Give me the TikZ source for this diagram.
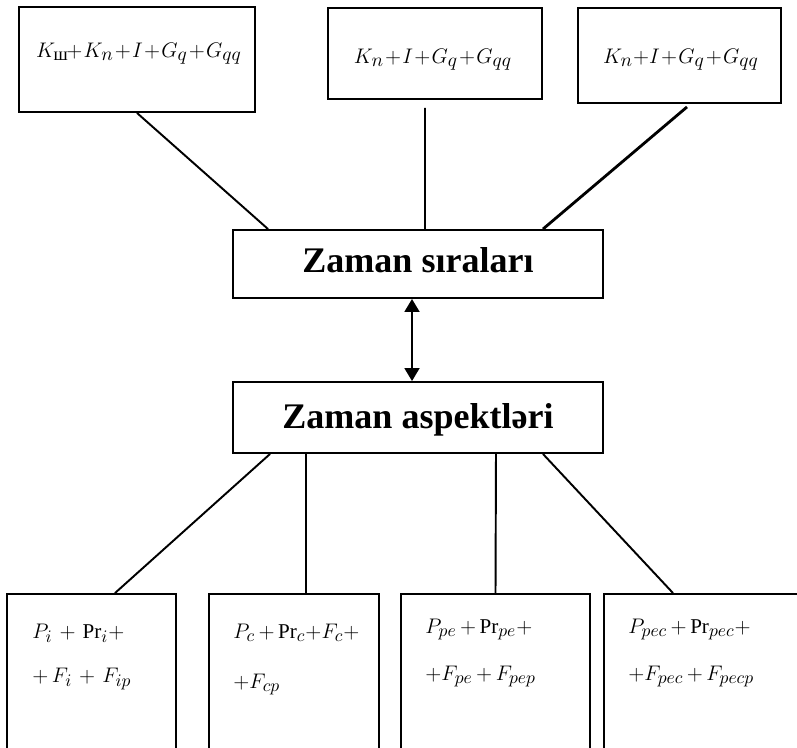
\documentclass[tikz,border=0pt]{standalone}
\usepackage{amsmath}
\usepackage{fontspec}
\setmainfont{Liberation Serif}
\usetikzlibrary{arrows.meta}
\DeclareMathSizes{13}{13}{10.5}{7.5}
\DeclareMathSizes{12}{12}{10}{7}
\newcommand\tightops{\medmuskip=1mu\relax}
\newcommand\looseops{\medmuskip=3mu\relax}
\tikzset{
  frame/.style={draw, line width=1.1pt, inner sep=0pt},
  formula/.style={font=\fontsize{13}{15}\selectfont\tightops, inner sep=0pt, anchor=base},
  term/.style={font=\fontsize{12}{14}\selectfont\looseops, inner sep=0pt, anchor=base west},
  heading/.style={font=\fontsize{20.5}{24}\selectfont\bfseries, inner sep=0pt, anchor=base},
  link/.style={line width=1.1pt},
  both/.style={line width=1.1pt, {Triangle[length=2.6mm,width=3mm]}-{Triangle[length=2.6mm,width=3mm]}},
}
\begin{document}
\begin{tikzpicture}[x=0.02cm,y=-0.02cm]
  \useasboundingbox (0,0) rectangle (797,747);
  \clip (0,0) rectangle (797,747);
  % top boxes
  \node[frame,minimum width=4.72cm,minimum height=2.1cm] (t1) at (137,59.5) {};
  \node[frame,minimum width=4.28cm,minimum height=1.82cm] (t2) at (435,53.5) {};
  \node[frame,minimum width=4.06cm,minimum height=1.9cm] (t3) at (679.5,55.5) {};
  \node[formula] (f1) at (139,57) {$K_{\text{ш}}\!+K_n+I+G_q+G_{qq}$};
  \node[formula] (f2) at (433,63) {$K_n+I+G_q+G_{qq}$};
  \node[formula] (f3) at (681,63) {$K_n{+}I+G_q+G_{qq}$};
  % middle boxes
  \node[frame,minimum width=7.4cm,minimum height=1.36cm] (zs) at (418,264) {};
  \node[heading] (zst) at (418,272) {Zaman sıraları};
  \node[frame,minimum width=7.4cm,minimum height=1.42cm] (za) at (418,417.5) {};
  \node[heading] (zat) at (418,428) {Zaman aspektləri};
  % bottom boxes
  \node[frame,minimum width=3.38cm,minimum height=3.52cm] (ba) at (91.5,682) {};
  \node[frame,minimum width=3.4cm,minimum height=3.52cm] (bb) at (294,682) {};
  \node[frame,minimum width=3.78cm,minimum height=3.52cm] (bc) at (495.5,682) {};
  \node[frame,minimum width=4.16cm,minimum height=3.52cm] (bd) at (708,682) {};
  \node[term] (a1) at (32,638) {$P_i\,+\,\mathrm{Pr}_i +$};
  \node[term] (a2) at (32,682) {$+\,F_i\,+\,F_{ip}$};
  \node[term] (b1) at (233,638) {$P_c+\mathrm{Pr}_c{+}F_c+$};
  \node[term] (b2) at (233,688) {$+F_{cp}$};
  \node[term] (c1) at (425,633) {$P_{pe}+\mathrm{Pr}_{pe}{+}$};
  \node[term] (c2) at (425,680) {$+F_{pe}+F_{pep}$};
  \node[term] (d1) at (628,633) {$P_{pec}+\mathrm{Pr}_{pec}{+}$};
  \node[term] (d2) at (628,680) {$+F_{pec}+F_{pecp}$};
  % connectors
  \draw[link] (t1.south) -- ([xshift=-3cm]zs.north);
  \draw[link] ([xshift=-0.2cm,yshift=-0.16cm]t2.south) -- ([xshift=0.14cm]zs.north);
  \draw[link,line width=1.6pt] ([xshift=0.15cm,yshift=-0.06cm]t3.south) -- ([xshift=2.5cm]zs.north);
  \draw[both] ([xshift=-0.12cm]zs.south) -- ([xshift=-0.12cm]za.north);
  \draw[link] ([xshift=-2.96cm]za.south) -- ([xshift=0.47cm]ba.north);
  \draw[link] ([xshift=-2.24cm]za.south) -- ([xshift=0.24cm]bb.north);
  \draw[link] ([xshift=1.56cm]za.south) -- (bc.north);
  \draw[link] ([xshift=2.5cm]za.south) -- ([xshift=-0.7cm]bd.north);
\end{tikzpicture}
\end{document}
